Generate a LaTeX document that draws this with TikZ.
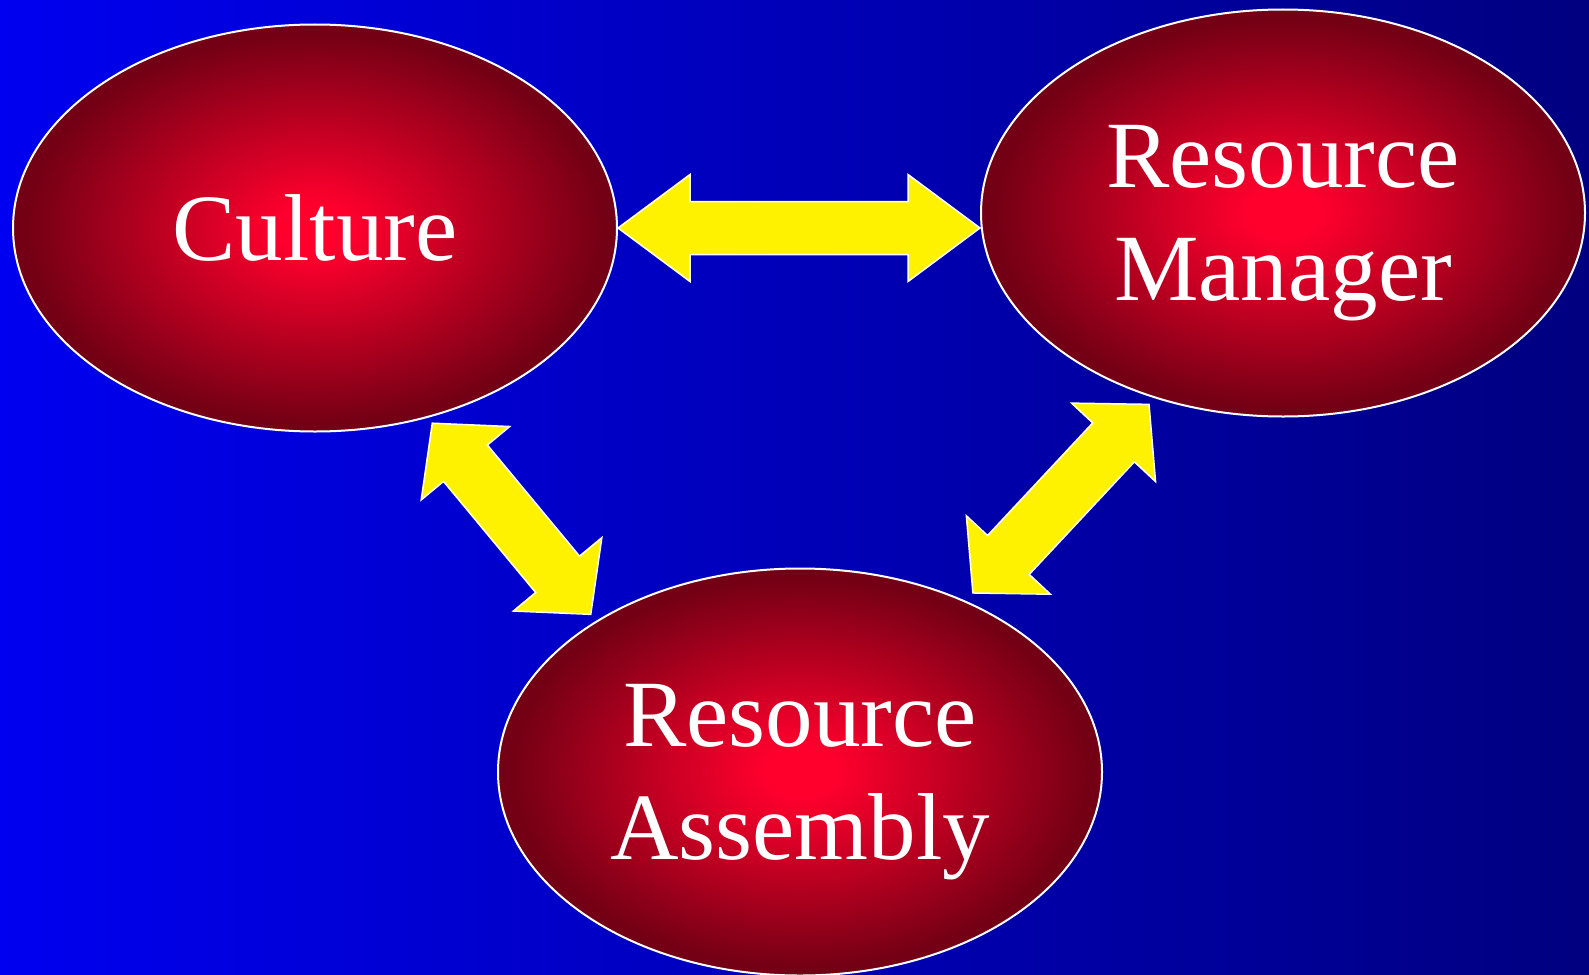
\documentclass[tikz,border=0pt]{standalone}
\usepackage{fontspec}
\setmainfont{Liberation Serif}
\usetikzlibrary{shapes.geometric,calc,positioning}

\definecolor{bgleft}{RGB}{0,0,240}
\definecolor{bgright}{RGB}{0,0,128}
\definecolor{glowin}{RGB}{255,0,45}
\definecolor{glowout}{RGB}{115,0,20}
\pgfdeclareradialshading{glow}{\pgfpoint{0bp}{0bp}}{color(0bp)=(glowin); color(3bp)=(glowin); color(24bp)=(glowout); color(50bp)=(glowout)}

\tikzstyle{blob}=[ellipse,draw=white,line width=2pt,shading=glow,minimum width=604pt,minimum height=407pt,inner sep=0pt,text=white,align=center,text depth=-7pt,font=\fontsize{95}{113}\selectfont]
\tikzstyle{fat}=[fill=yellow,draw=white,line width=1.5pt,line join=miter]

% from, to, head length, head half width, shaft half width
\newcommand{\fatarrow}[5]{%
  \draw[fat] (#1)
    -- ($(#1)!#3!(#2)!#4!90:(#2)$) -- ($(#1)!#3!(#2)!#5!90:(#2)$)
    -- ($(#2)!#3!(#1)!#5!-90:(#1)$) -- ($(#2)!#3!(#1)!#4!-90:(#1)$)
    -- (#2)
    -- ($(#2)!#3!(#1)!#4!90:(#1)$) -- ($(#2)!#3!(#1)!#5!90:(#1)$)
    -- ($(#1)!#3!(#2)!#5!-90:(#2)$) -- ($(#1)!#3!(#2)!#4!-90:(#2)$)
    -- cycle;}

\begin{document}
\begin{tikzpicture}[x=1pt,y=-1pt]
    \useasboundingbox (0,0) rectangle (1589,974);
    \shade[left color=bgleft,right color=bgright] (0,0) rectangle (1589,974);

    \node[blob] (culture) at (315,228) {Culture};
    \node[blob] (manager) at (1283,213) {Resource\\Manager};
    \node[blob] (assembly) at (800,772) {Resource\\Assembly};

    \coordinate (cu-e) at (culture.east);
    \coordinate (ma-w) at (culture.east -| manager.west);
    \coordinate (cu-s) at ($(culture.center)!1.03!(culture.-59)$);
    \coordinate (as-nw) at ($(assembly.center)!1.035!(assembly.143)$);
    \coordinate (ma-s) at ($(manager.center)!1.035!(manager.-125)$);
    \coordinate (as-ne) at ($(assembly.center)!1.045!(assembly.46)$);

    \fatarrow{cu-e}{ma-w}{72pt}{53.5pt}{26.5pt}
    \fatarrow{cu-s}{as-nw}{52pt}{57.5pt}{28.5pt}
    \fatarrow{ma-s}{as-ne}{52pt}{57.5pt}{28.5pt}
\end{tikzpicture}
\end{document}
